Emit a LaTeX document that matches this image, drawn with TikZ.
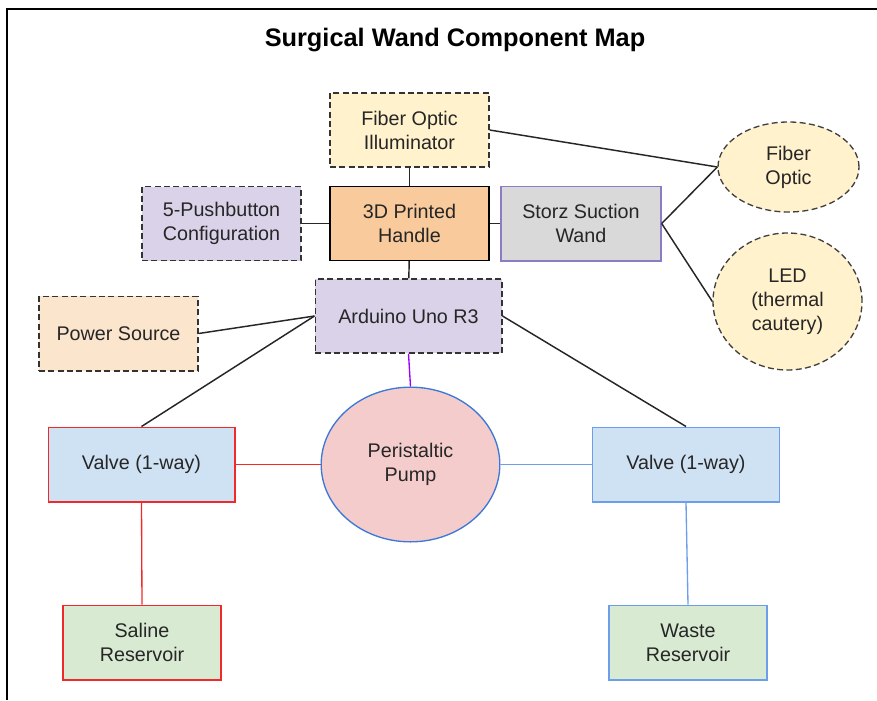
\documentclass[tikz,border=0pt]{standalone}
\usepackage{fontspec}
\setmainfont{Liberation Sans}
\usepackage{tikz}
\usetikzlibrary{shapes.geometric}
\usepackage{xcolor}

\definecolor{illumfill}{HTML}{FFF2CC}
\definecolor{handlefill}{HTML}{F9CB9C}
\definecolor{lavender}{HTML}{D9D2E9}
\definecolor{storzfill}{HTML}{D9D9D9}
\definecolor{storzline}{HTML}{8E7CC3}
\definecolor{powerfill}{HTML}{FCE5CD}
\definecolor{pumpfill}{HTML}{F4CCCC}
\definecolor{pumpline}{HTML}{3C78D8}
\definecolor{valvefill}{HTML}{CFE2F3}
\definecolor{resfill}{HTML}{D9EAD3}
\definecolor{redline}{HTML}{F02A2A}
\definecolor{blueline}{HTML}{6D9EEB}
\definecolor{purpleline}{HTML}{9900FF}

\begin{document}
\begin{tikzpicture}[x=0.75pt, y=-0.75pt,
  every node/.style={font=\fontsize{14.8}{18}\selectfont, align=center, text=black!85},
  part/.style={draw, line width=1pt, rectangle, minimum width=119.25pt, minimum height=55.5pt, inner sep=0pt},
  option/.style={part, dashed, dash pattern=on 4.5pt off 2.5pt, draw=black!80},
  bubble/.style={ellipse, draw=black!75, dashed, dash pattern=on 4.5pt off 2.5pt, line width=1pt, fill=illumfill, inner sep=0pt},
  wire/.style={line width=1.1pt, black!85}]

\useasboundingbox (0,0) rectangle (877,700);

% Draw the frame (left and top only)
\draw[line width=2.2pt] (7,700) -- (7,9) -- (877,9);

\node[font=\fontsize{19}{23}\selectfont\bfseries, text=black] (title) at (455,40) {Surgical Wand Component Map};

% handle and what sits on it
\node[option, fill=illumfill] (illum) at (409.5,130) {Fiber Optic\\Illuminator};
\node[part, fill=handlefill] (handle) at (409.5,223.5) {3D Printed\\Handle};
\node[option, fill=lavender] (buttons) at (221.5,223.5) {5-Pushbutton\\Configuration};
\node[part, draw=storzline, fill=storzfill, minimum width=120pt, minimum height=56pt] (storz) at (581,223.5) {Storz Suction\\Wand};
\node[option, fill=lavender, minimum width=140pt] (arduino) at (408.5,316) {Arduino Uno R3};
\node[option, fill=powerfill, minimum height=56pt] (power) at (118.5,333.5) {Power Source};

% light sources
\node[bubble, minimum width=105.75pt, minimum height=67.5pt] (fiber) at (788.5,167) {Fiber\\Optic};
\node[bubble, minimum width=111.75pt, minimum height=102.75pt] (led) at (787.5,301.5) {LED\\(thermal\\cautery)};

% fluid path
\node[ellipse, draw=pumpline, line width=1pt, fill=pumpfill, inner sep=0pt, minimum width=134pt, minimum height=116pt] (pump) at (410.5,464.5) {Peristaltic\\Pump};
\node[part, draw=redline, fill=valvefill, minimum width=140pt, minimum height=56pt] (valvein) at (141.5,464.5) {Valve (1-way)};
\node[part, draw=blueline, fill=valvefill, minimum width=140pt, minimum height=56pt] (valveout) at (686,464.5) {Valve (1-way)};
\node[part, draw=redline, fill=resfill, minimum width=118.5pt, minimum height=56pt] (saline) at (142,642.5) {Saline\\Reservoir};
\node[part, draw=blueline, fill=resfill, minimum width=118.5pt, minimum height=56pt] (waste) at (688,642.5) {Waste\\Reservoir};

% connections
\draw[wire] (illum) -- (handle);
\draw[wire] (buttons) -- (handle);
\draw[wire] (handle) -- (storz);
\draw[wire] (handle) -- (arduino);
\draw[wire] (illum.east) -- (fiber.west);
\draw[wire] (storz.east) -- (fiber.west);
\draw[wire] (storz.east) -- (led.west);
\draw[wire] (power.east) -- (arduino.west);
\draw[wire] (arduino.west) -- (valvein.north);
\draw[wire] (arduino.east) -- (valveout.north);

\draw[line width=1pt, purpleline] (arduino.south) -- (pump.north);
\draw[line width=1pt, redline] (valvein.east) -- (pump.west);
\draw[line width=1pt, redline] (valvein.south) -- (saline.north);
\draw[line width=1pt, blueline] (pump.east) -- (valveout.west);
\draw[line width=1pt, blueline] (valveout.south) -- (waste.north);

\end{tikzpicture}
\end{document}
